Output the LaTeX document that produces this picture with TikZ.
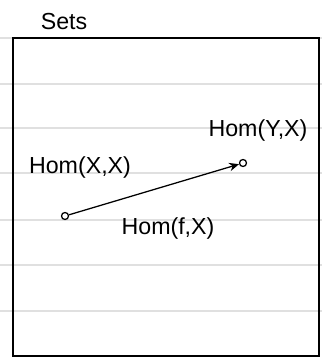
\documentclass[tikz,border=0pt]{standalone}
\usepackage{fontspec}
\setmainfont{Liberation Sans}
\usetikzlibrary{positioning, arrows.meta}
\definecolor{ruledgray}{HTML}{e0e0e0}

\begin{document}
\begin{tikzpicture}[
    >={Stealth[length=7pt, width=6pt]},
    font={\fontsize{16.5}{19}\selectfont},
    ruled/.style={draw=ruledgray, line width=0.8pt},
    frame/.style={draw, line width=1.1pt},
    homlabel/.style={inner sep=1pt},
    dotpt/.style={circle, draw, line width=0.9pt, inner sep=0pt, minimum size=5pt}
]
\useasboundingbox (0,0) rectangle (8.05,9);

% Linien des Notizpapiers
\foreach \y in {8.05, 6.9, 5.8, 4.675, 3.5, 2.375, 1.225} {
    \draw[ruled] (0,\y) -- (8.05,\y);
}

% Kategorie-Rahmen
\draw[frame] (0.325,0.1) rectangle (7.975,8.05);
\node (sets) at (1.6,8.45) {Sets};

% Objekte
\node[dotpt] (hxx) at (1.625,3.6) {};
\node[dotpt] (hyx) at (6.075,4.925) {};

\node[homlabel] (lxx) at (2.0,4.825) {Hom(X,X)};
\node[homlabel] (lyx) at (6.45,5.75) {Hom(Y,X)};

% Morphismus
\draw[->, line width=0.9pt] (hxx) -- (hyx);
\node[homlabel] (lfx) at (4.2,3.3) {Hom(f,X)};

\end{tikzpicture}
\end{document}
